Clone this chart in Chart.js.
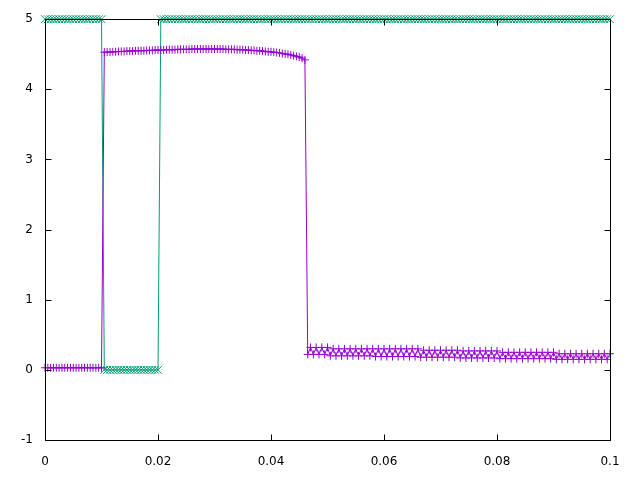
<!DOCTYPE html>
<html>
<head>
<meta charset="utf-8">
<script src="https://cdn.jsdelivr.net/npm/chart.js@4.4.1/dist/chart.umd.min.js"></script>
<style>
html,body{margin:0;padding:0;background:#fff;}
#wrap{width:640px;height:480px;}
</style>
</head>
<body>
<div id="wrap"><canvas id="c" width="640" height="480"></canvas></div>
<script>
// sample times (x)
const time = [
0,0.0005,0.001,0.0015,0.002,0.0025,0.003,0.0035,0.004,0.0045,0.005,0.0055,0.006,0.0065,0.007,0.0075,0.008,0.0085,0.009,0.0095,
0.01,0.0105,0.011,0.0115,0.012,0.0125,0.013,0.0135,0.014,0.0145,0.015,0.0155,0.016,0.0165,0.017,0.0175,0.018,0.0185,0.019,0.0195,
0.02,0.0205,0.021,0.0215,0.022,0.0225,0.023,0.0235,0.024,0.0245,0.025,0.0255,0.026,0.0265,0.027,0.0275,0.028,0.0285,0.029,0.0295,
0.03,0.0305,0.031,0.0315,0.032,0.0325,0.033,0.0335,0.034,0.0345,0.035,0.0355,0.036,0.0365,0.037,0.0375,0.038,0.0385,0.039,0.0395,
0.04,0.0405,0.041,0.0415,0.042,0.0425,0.043,0.0435,0.044,0.0445,0.045,0.0455,0.046,0.0465,0.047,0.0475,0.048,0.0485,0.049,0.0495,
0.05,0.0505,0.051,0.0515,0.052,0.0525,0.053,0.0535,0.054,0.0545,0.055,0.0555,0.056,0.0565,0.057,0.0575,0.058,0.0585,0.059,0.0595,
0.06,0.0605,0.061,0.0615,0.062,0.0625,0.063,0.0635,0.064,0.0645,0.065,0.0655,0.066,0.0665,0.067,0.0675,0.068,0.0685,0.069,0.0695,
0.07,0.0705,0.071,0.0715,0.072,0.0725,0.073,0.0735,0.074,0.0745,0.075,0.0755,0.076,0.0765,0.077,0.0775,0.078,0.0785,0.079,0.0795,
0.08,0.0805,0.081,0.0815,0.082,0.0825,0.083,0.0835,0.084,0.0845,0.085,0.0855,0.086,0.0865,0.087,0.0875,0.088,0.0885,0.089,0.0895,
0.09,0.0905,0.091,0.0915,0.092,0.0925,0.093,0.0935,0.094,0.0945,0.095,0.0955,0.096,0.0965,0.097,0.0975,0.098,0.0985,0.099,0.0995,
0.1
];

// purple series (+ markers)
const seriesPurple = [
0.03,0.03,0.03,0.03,0.03,0.03,0.03,0.03,0.03,0.03,0.03,0.03,0.03,0.03,0.03,0.03,0.03,0.03,0.03,0.03,
0.03,4.53,4.53,4.53,4.535,4.535,4.54,4.54,4.54,4.545,4.545,4.545,4.55,4.55,4.55,4.55,4.555,4.555,4.555,4.56,
4.56,4.56,4.56,4.565,4.565,4.565,4.565,4.57,4.57,4.57,4.57,4.57,4.575,4.575,4.575,4.575,4.575,4.575,4.575,4.575,
4.575,4.575,4.575,4.575,4.57,4.57,4.57,4.57,4.565,4.565,4.565,4.56,4.56,4.555,4.555,4.55,4.55,4.545,4.54,4.535,
4.535,4.53,4.525,4.52,4.51,4.505,4.5,4.49,4.48,4.47,4.46,4.445,4.42,0.22,0.32,0.22,0.32,0.22,0.32,0.22,
0.32,0.20,0.30,0.20,0.30,0.20,0.30,0.20,0.30,0.20,0.30,0.20,0.30,0.20,0.30,0.20,0.30,0.19,0.30,0.19,
0.30,0.19,0.30,0.19,0.30,0.19,0.30,0.19,0.30,0.19,0.30,0.19,0.30,0.18,0.28,0.18,0.28,0.18,0.28,0.18,
0.28,0.18,0.28,0.18,0.28,0.18,0.28,0.17,0.27,0.17,0.27,0.17,0.27,0.17,0.27,0.17,0.27,0.17,0.27,0.17,
0.27,0.16,0.25,0.16,0.25,0.16,0.25,0.16,0.25,0.16,0.25,0.16,0.25,0.16,0.25,0.16,0.25,0.16,0.25,0.16,
0.25,0.15,0.23,0.15,0.23,0.15,0.23,0.15,0.23,0.15,0.23,0.15,0.23,0.15,0.23,0.15,0.23,0.15,0.23,0.15,
0.23
];

// green series (x markers)
const seriesGreen = [
5,5,5,5,5,5,5,5,5,5,5,5,5,5,5,5,5,5,5,5,
5,0,0,0,0,0,0,0,0,0,0,0,0,0,0,0,0,0,0,0,
0,5,5,5,5,5,5,5,5,5,5,5,5,5,5,5,5,5,5,5,
5,5,5,5,5,5,5,5,5,5,5,5,5,5,5,5,5,5,5,5,
5,5,5,5,5,5,5,5,5,5,5,5,5,5,5,5,5,5,5,5,
5,5,5,5,5,5,5,5,5,5,5,5,5,5,5,5,5,5,5,5,
5,5,5,5,5,5,5,5,5,5,5,5,5,5,5,5,5,5,5,5,
5,5,5,5,5,5,5,5,5,5,5,5,5,5,5,5,5,5,5,5,
5,5,5,5,5,5,5,5,5,5,5,5,5,5,5,5,5,5,5,5,
5,5,5,5,5,5,5,5,5,5,5,5,5,5,5,5,5,5,5,5,
5
];

const xTicks = [0, 0.02, 0.04, 0.06, 0.08, 0.1];
const yTicks = [-1, 0, 1, 2, 3, 4, 5];

const FONT = {family: 'DejaVu Sans', size: 12};

const frame = {
  id: 'frame',
  afterDatasetsDraw(chart) {
    const {ctx, chartArea: a, scales} = chart;
    const L = Math.round(a.left) + 0.5, R = Math.round(a.right) + 0.5;
    const T = Math.round(a.top) + 0.5, B = Math.round(a.bottom) + 0.5;
    const tl = 6;
    ctx.save();
    ctx.strokeStyle = '#000';
    ctx.lineWidth = 1;
    ctx.beginPath();
    ctx.rect(L, T, R - L, B - T);
    xTicks.forEach(v => {
      const px = Math.round(scales.x.getPixelForValue(v)) + 0.5;
      ctx.moveTo(px, B); ctx.lineTo(px, B - tl);
      ctx.moveTo(px, T); ctx.lineTo(px, T + tl);
    });
    yTicks.forEach(v => {
      const py = Math.round(scales.y.getPixelForValue(v)) + 0.5;
      ctx.moveTo(L, py); ctx.lineTo(L + tl, py);
      ctx.moveTo(R, py); ctx.lineTo(R - tl, py);
    });
    ctx.stroke();
    ctx.restore();
  }
};

new Chart(document.getElementById('c'), {
  type: 'line',
  data: {
    datasets: [
      {
        data: time.map((t, i) => ({x: t, y: seriesPurple[i]})),
        borderColor: '#9400D3', backgroundColor: '#9400D3', borderWidth: 1,
        pointStyle: 'cross', pointRadius: 4, pointBorderWidth: 1, pointBorderColor: '#9400D3',
        tension: 0, clip: false
      },
      {
        data: time.map((t, i) => ({x: t, y: seriesGreen[i]})),
        borderColor: '#009E73', backgroundColor: '#009E73', borderWidth: 1,
        pointStyle: 'crossRot', pointRadius: 5.5, pointBorderWidth: 1, pointBorderColor: '#009E73',
        tension: 0, clip: false
      }
    ]
  },
  options: {
    responsive: false,
    animation: false,
    devicePixelRatio: 1,
    layout: {padding: {top: 19, right: 30, left: 0, bottom: 0}},
    plugins: {legend: {display: false}, tooltip: {enabled: false}},
    scales: {
      x: {
        type: 'linear', min: 0, max: 0.1,
        afterBuildTicks: s => { s.ticks = xTicks.map(v => ({value: v})); },
        afterFit: s => { s.height = 40; },
        grid: {display: false, drawTicks: false},
        border: {display: false},
        ticks: {
          color: '#000', font: FONT, padding: 15, maxRotation: 0, autoSkip: false,
          callback: v => String(Number(v.toFixed(2)))
        }
      },
      y: {
        type: 'linear', min: -1, max: 5,
        afterBuildTicks: s => { s.ticks = yTicks.map(v => ({value: v})); },
        afterFit: s => { s.width = 45; },
        grid: {display: false, drawTicks: false},
        border: {display: false},
        ticks: {
          color: '#000', font: FONT, padding: 12, autoSkip: false,
          callback: v => String(v)
        }
      }
    }
  },
  plugins: [frame]
});
</script>
</body>
</html>
